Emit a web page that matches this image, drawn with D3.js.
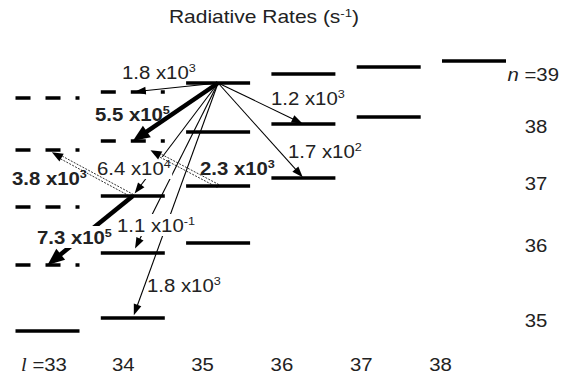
<!DOCTYPE html>
<html><head><meta charset="utf-8">
<script src="https://cdn.jsdelivr.net/npm/d3@7"></script>
<style>body{margin:0;background:#fff} svg{display:block}</style>
</head><body>
<svg id="c" width="561" height="380"></svg>
<script>
// ---------------- data ----------------
const lValues = [33, 34, 35, 36, 37, 38];
const lTickLabels = ["33", "34", "35", "36", "37", "38"];
const nTickLabels = ["39", "38", "37", "36", "35"];
// energy levels (relative energy, arbitrary units)
const levelL = [33,33,33,33,33, 34,34,34,34,34, 35,35,35,35, 36,36,36, 37,37, 38];
const levelN = [35,36,37,38,39, 35,36,37,38,39, 36,37,38,39, 37,38,39, 38,39, 39];
const levelE = [19,85,143,200,252, 32,97,154,209,258, 107,164,218,267, 172,226,276, 233,283, 289];
const levelDashed = [0,1,1,1,1, 0,0,0,1,1, 0,0,0,0, 0,0,0, 0,0, 0];
// radiative transitions
const trFromL = [35, 35, 35, 35, 35, 35, 35, 35, 34, 34];
const trFromN = [39, 39, 39, 39, 39, 39, 39, 37, 37, 37];
const trToL   = [34, 34, 34, 34, 34, 36, 36, 34, 33, 33];
const trToN   = [39, 38, 37, 36, 35, 38, 37, 38, 38, 36];
const trMant  = [1.8, 5.5, 6.4, 1.1, 1.8, 1.2, 1.7, 2.3, 3.8, 7.3];
const trExp   = [3, 5, 4, -1, 3, 3, 2, 3, 3, 5];
const trKind  = ["thin","thick","thin","thin","thin","thin","thin","dotted","dotted","thick"];

// ---------------- layout ----------------
const FONT = "'Liberation Sans', Arial, Helvetica, sans-serif";
const SX = 1.1;           // horizontal stretch of text
const FS = 18.5;          // label font size
const x = d3.scaleLinear().domain([33, 38]).range([47.5, 474]);
const xLab = d3.scaleLinear().domain([33, 38]).range([44, 440.5]);
const y = d3.scaleLinear().domain([0, 300]).range([350, 50]);
const halfBar = 32;
// label anchor (left x, baseline y) for each transition label
const labelPos = [[122,79],[95,121],[97,175],[117,232],[147,292],[271,105],[288,158],[200,175],[12,185],[37,244]];
const labelBg  = [0,0,1,1,0,0,0,0,0,1];
const endGap   = [2,0,3,5,3,1,1,20,5,0];
const nLabelE  = [269, 217, 160, 98, 23];

const svg = d3.select("#c");
svg.append("rect").attr("width",561).attr("height",380).attr("fill","#fff");

const levels = levelL.map((l,i)=>({l, n:levelN[i], e:levelE[i], dashed:levelDashed[i]}));
const findLevel = (l,n)=>levels.find(d=>d.l===l && d.n===n);

// level bars
svg.append("g").selectAll("line").data(levels).join("line")
  .attr("x1", d=>x(d.l)-halfBar).attr("x2", d=>x(d.l)+halfBar)
  .attr("y1", d=>y(d.e)).attr("y2", d=>y(d.e))
  .attr("stroke","#000").attr("stroke-width",3.5)
  .attr("stroke-dasharray", d=>d.dashed ? "15,15" : null);

const trans = trMant.map((m,i)=>{
  const a = findLevel(trFromL[i], trFromN[i]), b = findLevel(trToL[i], trToN[i]);
  return {m, e:trExp[i], kind:trKind[i], x1:x(a.l), y1:y(a.e), x2:x(b.l), y2:y(b.e), gap:endGap[i], i};
});

function geom(d){
  const dx=d.x2-d.x1, dy=d.y2-d.y1, L=Math.hypot(dx,dy);
  const ux=dx/L, uy=dy/L;
  const tx=d.x2-ux*d.gap, ty=d.y2-uy*d.gap;
  return {ux,uy,px:-uy,py:ux,tx,ty};
}
const headSize = {thin:[11,4], thick:[17,7], dotted:[11,4.5]};

function drawArrow(g, d){
  const G = geom(d);
  const [hl,hw] = headSize[d.kind];
  const bx=G.tx-G.ux*hl, by=G.ty-G.uy*hl;
  if (d.kind === "dotted") {
    [-1.6, 1.6].forEach(o=>{
      g.append("line")
        .attr("x1", d.x1+G.px*o).attr("y1", d.y1+G.py*o)
        .attr("x2", bx+G.px*o).attr("y2", by+G.py*o)
        .attr("stroke","#000").attr("stroke-width",0.8)
        .attr("stroke-dasharray","2,1.3");
    });
  } else {
    g.append("line")
      .attr("x1", d.x1).attr("y1", d.y1)
      .attr("x2", bx+G.ux*1.5).attr("y2", by+G.uy*1.5)
      .attr("stroke","#000").attr("stroke-width", d.kind==="thick" ? 4.5 : 1.1);
  }
  const pts = [[G.tx,G.ty],[bx+G.px*hw, by+G.py*hw],[bx-G.px*hw, by-G.py*hw]];
  g.append("path").attr("d", d3.line()(pts)+"Z").attr("fill","#000");
}

const arrowsG = svg.append("g");
trans.filter(d=>d.kind!=="dotted").forEach(d=>drawArrow(arrowsG, d));

// labels
function rateLabel(g, d){
  const [lx, ly] = labelPos[d.i];
  const bold = d.kind !== "thin";
  const lg = g.append("g").attr("transform", `translate(${lx},${ly}) scale(${SX},1)`);
  const bg = lg.append("rect").attr("fill","#fff");
  const t = lg.append("text").attr("x",0).attr("y",0)
    .attr("font-family",FONT).attr("font-size",FS)
    .attr("font-weight", bold ? "bold" : "normal").attr("fill","#222");
  t.append("tspan").text(`${d.m.toFixed(1)} x10`);
  t.append("tspan").attr("dy",-7).attr("font-size",11.5).text(String(d.e));
  if (labelBg[d.i]) {
    const b = t.node().getBBox();
    bg.attr("x", b.x-1).attr("y", -18).attr("width", b.width+2).attr("height", 22);
  } else bg.remove();
}
const labG = svg.append("g");
trans.forEach(d=>{ if (labelBg[d.i]) rateLabel(labG, d); });
const dotG = svg.append("g");
trans.filter(d=>d.kind==="dotted").forEach(d=>drawArrow(dotG, d));
trans.forEach(d=>{ if (!labelBg[d.i]) rateLabel(labG, d); });

// title
const tg = svg.append("g").attr("transform", `translate(264,23) scale(1.2,1)`);
const tt = tg.append("text").attr("text-anchor","middle").attr("font-family",FONT)
  .attr("font-size",17.5).attr("fill","#222");
tt.append("tspan").text("Radiative Rates (s");
tt.append("tspan").attr("dy",-6.5).attr("font-size",11).text("-1");
tt.append("tspan").attr("dy",6.5).text(")");

// bottom l labels
lTickLabels.forEach((s,i)=>{
  const g = svg.append("g").attr("transform", `translate(${xLab(lValues[i])},371) scale(${SX},1)`);
  const t = g.append("text").attr("text-anchor","middle").attr("font-family",FONT)
    .attr("font-size",FS).attr("fill","#222");
  if (i===0) {
    t.append("tspan").attr("font-family","'Liberation Serif', 'Times New Roman', serif")
      .attr("font-style","italic").text("l");
    t.append("tspan").text(" =" + s);
  } else t.text(s);
});

// right n labels
nTickLabels.forEach((s,i)=>{
  const yy = y(nLabelE[i]);
  if (i===0) {
    const g = svg.append("g").attr("transform", `translate(559,${yy}) scale(${SX},1)`);
    const t = g.append("text").attr("text-anchor","end").attr("font-family",FONT)
      .attr("font-size",FS).attr("fill","#222");
    t.append("tspan").attr("font-style","italic").text("n");
    t.append("tspan").text(" =" + s);
  } else {
    const g = svg.append("g").attr("transform", `translate(536,${yy}) scale(${SX},1)`);
    g.append("text").attr("text-anchor","middle").attr("font-family",FONT)
      .attr("font-size",FS).attr("fill","#222").text(s);
  }
});
</script>
</body></html>
